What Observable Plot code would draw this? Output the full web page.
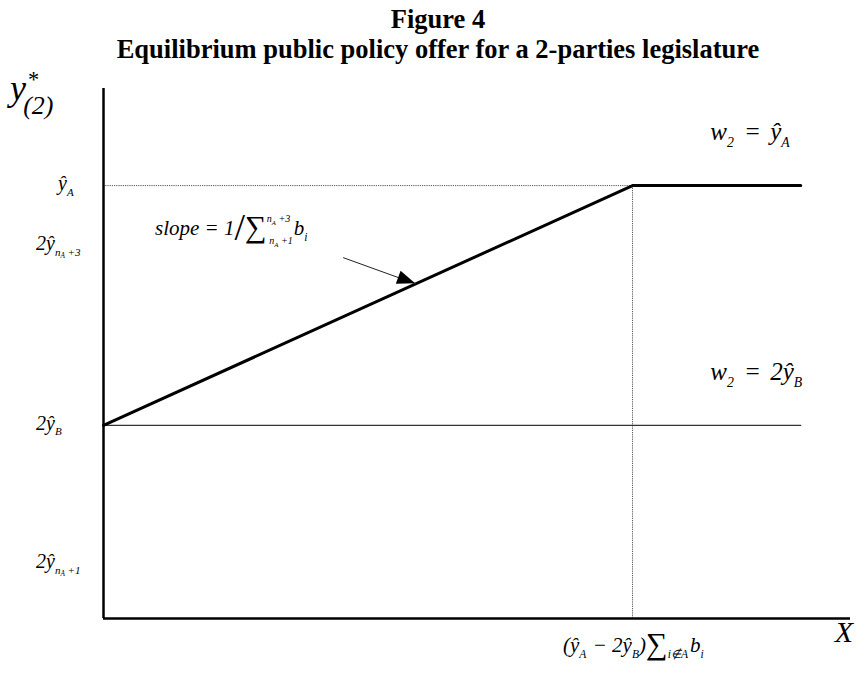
<!DOCTYPE html>
<html><head><meta charset="utf-8">
<script src="https://cdn.jsdelivr.net/npm/d3@7"></script>
<script src="https://cdn.jsdelivr.net/npm/@observablehq/plot@0.6"></script>
<style>
body{margin:0;background:#fff;}
#chart text{white-space:pre;font-family:'Liberation Serif','Times New Roman',serif;}
</style></head><body>
<div id="chart"></div>
<script>
// ---- data ----
const titleLines = ["Figure 4", "Equilibrium public policy offer for a 2-parties legislature"];
const offerX = [0, 1, 1.318];          // kink at (ŷA − 2ŷB)Σb
const offerY = [34.8, 78, 78];         // 2ŷB → ŷA, then flat at ŷA
const floorX = [0, 1.318];
const floorY = [34.8, 34.8];           // w2 = 2ŷB
const kinkX = 1;
const levelA = 78;                     // ŷA
const axisXEnd = 1.412;
const axisYEnd = 95.5;
const yTickValues = [78, 67.2, 34.8, 9.9];
const yTickLabels = [
  [["ŷ",0],["A",1]],
  [["2ŷ",0],["n",1],["A",2],[" +3",1]],
  [["2ŷ",0],["B",1]],
  [["2ŷ",0],["n",1],["A",2],[" +1",1]]
];
const xTickValues = [1];
const xTickLabels = [
  [["(",0],["ŷ",0],["A",1],[" − 2ŷ",0,1],["B",1],[")",0],["∑","S"],["i∉A",1],["b",0,2],["i",1]]
];
const yAxisLabel = [["y",0],["*","sup",2],["(2)","sub",-16]];
const arrowX = [0.4537, 0.590];
const arrowY = [65.0, 60.3];

// ---- rich text helper ----
const NS = "http://www.w3.org/2000/svg";
function spec(l, B) {
  switch (l) {
    case 0: return {size: B, shift: 0};
    case 1: return {size: 0.55*B, shift: 0.28*B};
    case 2: return {size: 0.36*B, shift: 0.42*B};
    case "S": return {size: 1.45*B, shift: 0.1*B, upright: true};
    case "/": return {size: 1.8*B, shift: 0.22*B, upright: true};
    case "u1": return {size: 0.48*B, shift: -0.62*B};
    case "u2": return {size: 0.32*B, shift: -0.5*B};
    case "L1": return {size: 0.48*B, shift: 0.42*B};
    case "L2": return {size: 0.32*B, shift: 0.55*B};
    case "sup": return {size: 0.62*B, shift: -0.36*B, upright: true};
    case "sub": return {size: 0.72*B, shift: 0.38*B};
  }
}
function mathText(tokens, x, y, B, anchor = "start") {
  const t = document.createElementNS(NS, "text");
  t.setAttribute("x", x); t.setAttribute("y", y);
  t.setAttribute("text-anchor", anchor);
  t.setAttribute("font-style", "italic");
  t.setAttribute("fill", "black");
  let prev = 0;
  for (const [s, l, dx] of tokens) {
    const sp = spec(l, B);
    const ts = document.createElementNS(NS, "tspan");
    ts.setAttribute("font-size", sp.size);
    ts.setAttribute("dy", sp.shift - prev);
    if (dx) ts.setAttribute("dx", dx);
    if (sp.upright) ts.setAttribute("font-style", "normal");
    ts.textContent = s;
    prev = sp.shift;
    t.appendChild(ts);
  }
  return t;
}
function plainText(s, x, y, size, opts = {}) {
  const t = document.createElementNS(NS, "text");
  t.setAttribute("x", x); t.setAttribute("y", y);
  t.setAttribute("font-size", size);
  t.setAttribute("fill", "black");
  if (opts.anchor) t.setAttribute("text-anchor", opts.anchor);
  if (opts.italic) t.setAttribute("font-style", "italic");
  if (opts.bold) t.setAttribute("font-weight", "bold");
  t.textContent = s;
  return t;
}

function annotations(index, scales) {
  const {x, y} = scales;
  const g = document.createElementNS(NS, "g");
  // title
  titleLines.forEach((s, i) => g.appendChild(plainText(s, 438, 28 + i*30, 26.5, {anchor: "middle", bold: true})));
  // y axis label y*(2)
  g.appendChild(mathText(yAxisLabel, 10, 100, 36));
  // y tick labels
  yTickValues.forEach((v, i) => {
    const lab = yTickLabels[i];
    const lx = lab[0][0].startsWith("2") ? 36 : 58;
    g.appendChild(mathText(lab, lx, y(v) + 5, 20));
  });
  // x tick labels
  xTickValues.forEach((v, i) => {
    g.appendChild(mathText(xTickLabels[i], x(v) - 69, y(0) + 34, 21));
  });
  // X axis name
  g.appendChild(plainText("X", x(axisXEnd) - 6, y(0) + 24, 30, {italic: true}));
  // line labels
  g.appendChild(mathText([["w",0],["2",1],[" = ",0,4],["ŷ",0,3],["A",1]], x(offerX[2]) - 90, y(offerY[2]) - 45, 25));
  g.appendChild(mathText([["w",0],["2",1],[" = ",0,4],["2ŷ",0,3],["B",1]], x(floorX[1]) - 90, y(floorY[1]) - 45, 25));
  // slope label
  g.appendChild(mathText([
    ["slope = 1",0],["/","/"],["∑","S"],
    ["n","u1"],["A","u2"],[" +3","u1"],
    ["n","L1",-21],["A","L2"],[" +1","L1"],
    ["b",0,1],["i",1]
  ], 155, y(arrowY[0]) - 22, 21));
  // arrowhead
  const x0 = x(arrowX[0]), y0 = y(arrowY[0]), x1 = x(arrowX[1]), y1 = y(arrowY[1]);
  const a = Math.atan2(y1 - y0, x1 - x0), L = 18, W = 7;
  const bx = x1 - L*Math.cos(a), by = y1 - L*Math.sin(a);
  const p = document.createElementNS(NS, "path");
  p.setAttribute("d", `M${x1},${y1}L${bx - W*Math.sin(a)},${by + W*Math.cos(a)}L${bx + W*Math.sin(a)},${by - W*Math.cos(a)}Z`);
  p.setAttribute("fill", "black");
  g.appendChild(p);
  return g;
}

const offer = offerX.map((v, i) => ({x: v, y: offerY[i]}));
const floor = floorX.map((v, i) => ({x: v, y: floorY[i]}));
const arrow = arrowX.map((v, i) => ({x: v, y: arrowY[i]}));

const chart = Plot.plot({
  width: 868, height: 679,
  marginLeft: 103, marginRight: 18, marginTop: 63, marginBottom: 61,
  x: {domain: [0, axisXEnd], axis: null},
  y: {domain: [0, 100], axis: null},
  style: {background: "white", overflow: "visible"},
  marks: [
    Plot.ruleY([levelA], {x1: 0, x2: kinkX, stroke: "#555", strokeWidth: 1, strokeDasharray: "1.2,1"}),
    Plot.ruleX([kinkX], {y1: 0, y2: levelA, stroke: "#555", strokeWidth: 1, strokeDasharray: "1.2,1"}),
    Plot.line(floor, {x: "x", y: "y", stroke: "#333", strokeWidth: 1.3}),
    Plot.line(offer, {x: "x", y: "y", stroke: "black", strokeWidth: 3, strokeLinejoin: "miter"}),
    Plot.ruleX([0], {y1: 0, y2: axisYEnd, stroke: "black", strokeWidth: 2.5}),
    Plot.ruleY([0], {x1: 0, x2: axisXEnd, stroke: "black", strokeWidth: 2.5}),
    Plot.line(arrow, {x: "x", y: "y", stroke: "#222", strokeWidth: 1}),
    annotations
  ]
});
document.getElementById("chart").appendChild(chart);
</script>
</body></html>
